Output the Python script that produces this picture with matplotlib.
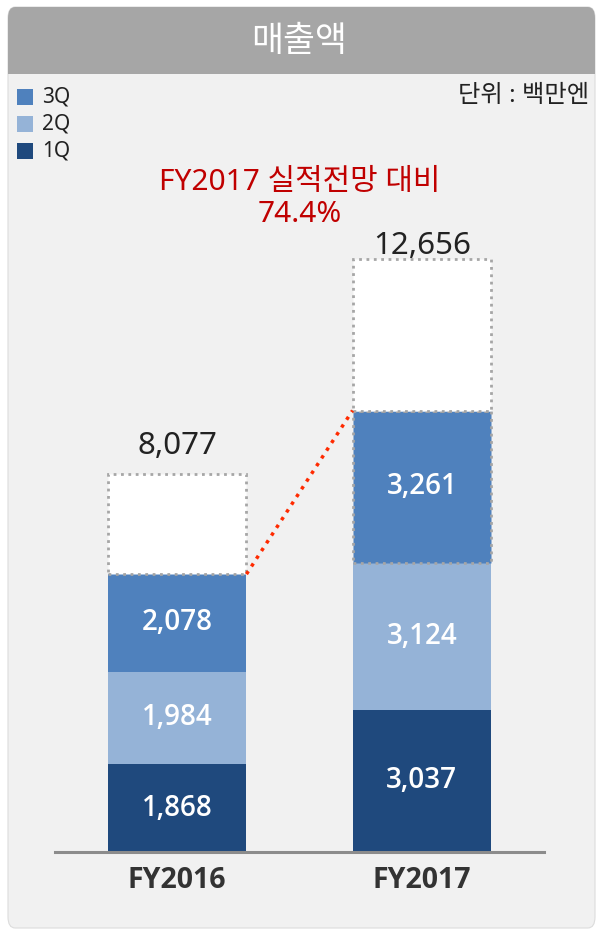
import matplotlib.pyplot as plt
from matplotlib.patches import FancyBboxPatch, Rectangle

plt.rcParams['font.family'] = ['Noto Sans', 'Noto Sans CJK KR', 'DejaVu Sans']

# Data
years = ['FY2016', 'FY2017']
q1 = [1868, 3037]
q2 = [1984, 3124]
q3 = [2078, 3261]
totals = [8077, 12656]
quarters = ['3Q', '2Q', '1Q']
colors = {'1Q': '#1f497d', '2Q': '#95b3d7', '3Q': '#4f81bd'}

W, H = 599, 932
fig = plt.figure(figsize=(W / 100, H / 100), dpi=100)
fig.patch.set_facecolor('white')

def fx(px):
    return px / W

def fy(py):
    return 1 - py / H

# Panel background
panel = FancyBboxPatch((fx(8), fy(928)), fx(587), fy(7) - fy(928),
                       boxstyle='round,pad=0,rounding_size=0.012',
                       transform=fig.transFigure, facecolor='#f1f1f1',
                       edgecolor='#dcdcdc', linewidth=0.8, zorder=-3)
fig.patches.append(panel)
header = FancyBboxPatch((fx(8), fy(74)), fx(587), fy(7) - fy(74),
                        boxstyle='round,pad=0,rounding_size=0.012',
                        transform=fig.transFigure, facecolor='#a6a6a6',
                        edgecolor='none', zorder=-2)
fig.patches.append(header)
fig.patches.append(Rectangle((fx(8), fy(74)), fx(587), fy(50) - fy(74),
                             transform=fig.transFigure, facecolor='#a6a6a6',
                             edgecolor='none', zorder=-2))
fig.text(0.5, fy(42), '매출액', ha='center', va='center', color='white',
         fontsize=25, fontweight='medium')

# Legend
for i, q in enumerate(quarters):
    yy = 97 + i * 27
    fig.patches.append(Rectangle((fx(17), fy(yy + 8)), fx(16), fy(yy - 8) - fy(yy + 8),
                                 transform=fig.transFigure, facecolor=colors[q],
                                 edgecolor='none'))
    fig.text(fx(42), fy(yy), q, ha='left', va='center', color='#222222', fontsize=15)
fig.text(fx(589), fy(96), '단위 : 백만엔', ha='right', va='center',
         color='#222222', fontsize=17.5)

# Annotation
fig.text(0.5, fy(183), 'FY2017 실적전망 대비', ha='center', va='center',
         color='#c00000', fontsize=21.5)
fig.text(0.5, fy(215), '74.4%', ha='center', va='center',
         color='#c00000', fontsize=21.5)

# Bar axes
ax = fig.add_axes([fx(55), fy(852), fx(489), fy(196) - fy(852)])
ax.set_zorder(2)
ax.set_facecolor('none')
ax.set_xlim(-0.5, 1.5)
ax.set_ylim(0, 14000)
x = [0, 1]
width = 0.566

b1 = [0, 0]
b2 = [a for a in q1]
b3 = [a + b for a, b in zip(q1, q2)]
top3 = [a + b + c for a, b, c in zip(q1, q2, q3)]
rest = [t - s for t, s in zip(totals, top3)]

ax.bar(x, q1, width, bottom=b1, color=colors['1Q'], zorder=2)
ax.bar(x, q2, width, bottom=b2, color=colors['2Q'], zorder=2)
ax.bar([0], [q3[0]], width, bottom=[b3[0]], color=colors['3Q'], zorder=2)
ax.bar([1], [q3[1]], width, bottom=[b3[1]], color=colors['3Q'], zorder=3,
       edgecolor='#a6a6a6', linestyle=':', linewidth=2)
ax.bar(x, rest, width, bottom=top3, color='white', zorder=3,
       edgecolor='#a6a6a6', linestyle=':', linewidth=2)

# Segment labels
bold_font = ['Open Sans', 'Noto Sans CJK KR']
for i in x:
    for val, bot in [(q1[i], b1[i]), (q2[i], b2[i]), (q3[i], b3[i])]:
        ax.text(i, bot + val / 2, f'{val:,}', ha='center', va='center',
                color='white', fontsize=20, fontweight='semibold',
                family=bold_font, zorder=4)

# Total labels (baseline offset in pixels above the bar)
total_offsets = [20, 5]
for i in x:
    ax.annotate(f'{totals[i]:,}', (i, totals[i]), xytext=(0, total_offsets[i] * 0.72),
                textcoords='offset points', ha='center', va='baseline',
                color='#222222', fontsize=22.5, zorder=4)

# Connector line
ax.plot([0 + width / 2, 1 - width / 2], [top3[0], top3[1]], color='#ff2a00',
        linestyle=':', linewidth=2.5, zorder=4)

for s in ['top', 'left', 'right']:
    ax.spines[s].set_visible(False)
ax.spines['bottom'].set_color('#8c8c8c')
ax.spines['bottom'].set_linewidth(2.2)
ax.spines['bottom'].set_zorder(5)
ax.set_yticks([])
ax.set_xticks(x)
ax.set_xticklabels(years, fontsize=20.5, fontweight='bold', color='#333333',
                   family=bold_font)
ax.tick_params(axis='x', length=0, pad=10)

fig.savefig('out.png', dpi=100)
